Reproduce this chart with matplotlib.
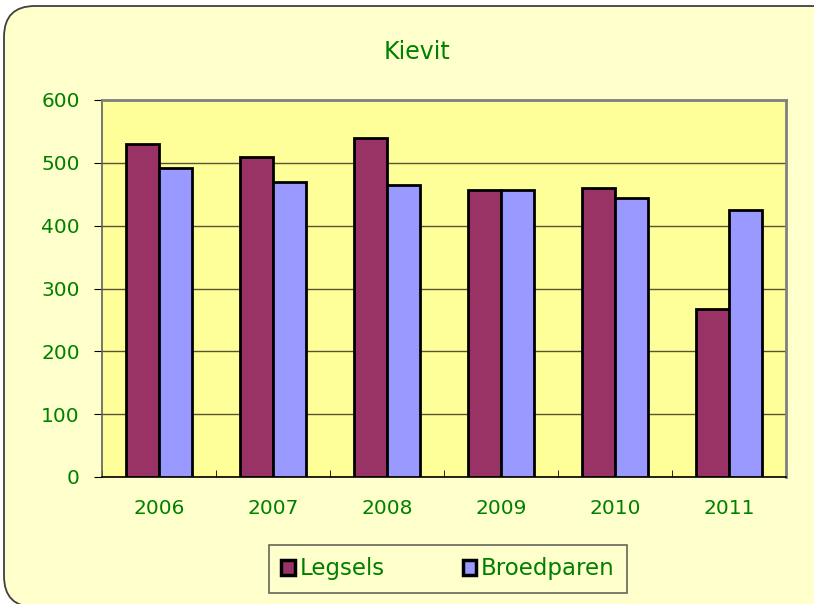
import matplotlib
matplotlib.use("Agg")
import matplotlib.pyplot as plt
import numpy as np
from matplotlib.patches import FancyBboxPatch

years = ["2006", "2007", "2008", "2009", "2010", "2011"]
legsels = [530, 509, 540, 457, 460, 267]
broedparen = [492, 469, 465, 457, 444, 425]
series_names = ["Legsels", "Broedparen"]
yticks = [0, 100, 200, 300, 400, 500, 600]

green = "#008000"
plt.rcParams["font.family"] = ["DejaVu Sans"]

fig = plt.figure(figsize=(8.14, 6.04), dpi=100)
fig.patch.set_facecolor("white")

# rounded chart background
bg = FancyBboxPatch((4 / 814, -3 / 604), 1.03, 1 - 3 / 604,
                    boxstyle="round,pad=0,rounding_size=0.038",
                    transform=fig.transFigure, facecolor="#FFFFCC",
                    edgecolor="#404040", linewidth=1.3, mutation_aspect=814 / 604,
                    zorder=-5)
fig.patches.append(bg)

ax = fig.add_axes([102 / 814, 1 - 477 / 604, 684 / 814, 377 / 604])
ax.set_zorder(2)
ax.set_facecolor("#FFFF99")

x = np.arange(len(years))
w = 0.29
ax.bar(x - w / 2, legsels, width=w, color="#993366", edgecolor="black",
       linewidth=2, label=series_names[0], zorder=3)
ax.bar(x + w / 2, broedparen, width=w, color="#9999FF", edgecolor="black",
       linewidth=2, label=series_names[1], zorder=3)

ax.set_xlim(-0.5, len(years) - 0.5)
ax.set_ylim(0, 600)
ax.set_yticks(yticks)
ax.set_yticklabels([str(v) for v in yticks], color=green, fontsize=14.5)
ax.set_xticks(x)
ax.set_xticklabels(years, color=green, fontsize=14.5)
ax.tick_params(axis="x", length=0, pad=16)
ax.set_xticks(np.arange(len(years) + 1) - 0.5, minor=True)
ax.tick_params(axis="x", which="minor", direction="in", length=5, color="black")
ax.tick_params(axis="y", direction="out", length=6, color="black", pad=10)
ax.yaxis.grid(True, color="#555533", linewidth=1, zorder=1)
ax.set_axisbelow(True)
for s in ["top", "right"]:
    ax.spines[s].set_color("#808080")
    ax.spines[s].set_linewidth(2)
ax.spines["left"].set_color("#606060")
ax.spines["left"].set_linewidth(1.2)
ax.spines["bottom"].set_color("#000000")
ax.spines["bottom"].set_linewidth(1.2)

fig.text(417 / 814, 1 - 52 / 604, "Kievit", color=green, fontsize=17,
         ha="center", va="center")

leg = fig.legend(loc="center", bbox_to_anchor=(448 / 814, 1 - 569 / 604),
                 ncol=2, frameon=True, fontsize=16.5, handlelength=0.6,
                 handleheight=0.6, handletextpad=0.2, columnspacing=3.4,
                 borderpad=0.55, borderaxespad=0, fancybox=False)
leg.get_frame().set_facecolor("#FFFFCC")
leg.get_frame().set_edgecolor("#404040")
leg.get_frame().set_linewidth(1.2)
for t in leg.get_texts():
    t.set_color(green)
for h in leg.legend_handles:
    h.set_linewidth(2.5)

fig.savefig("out.png", dpi=100)
